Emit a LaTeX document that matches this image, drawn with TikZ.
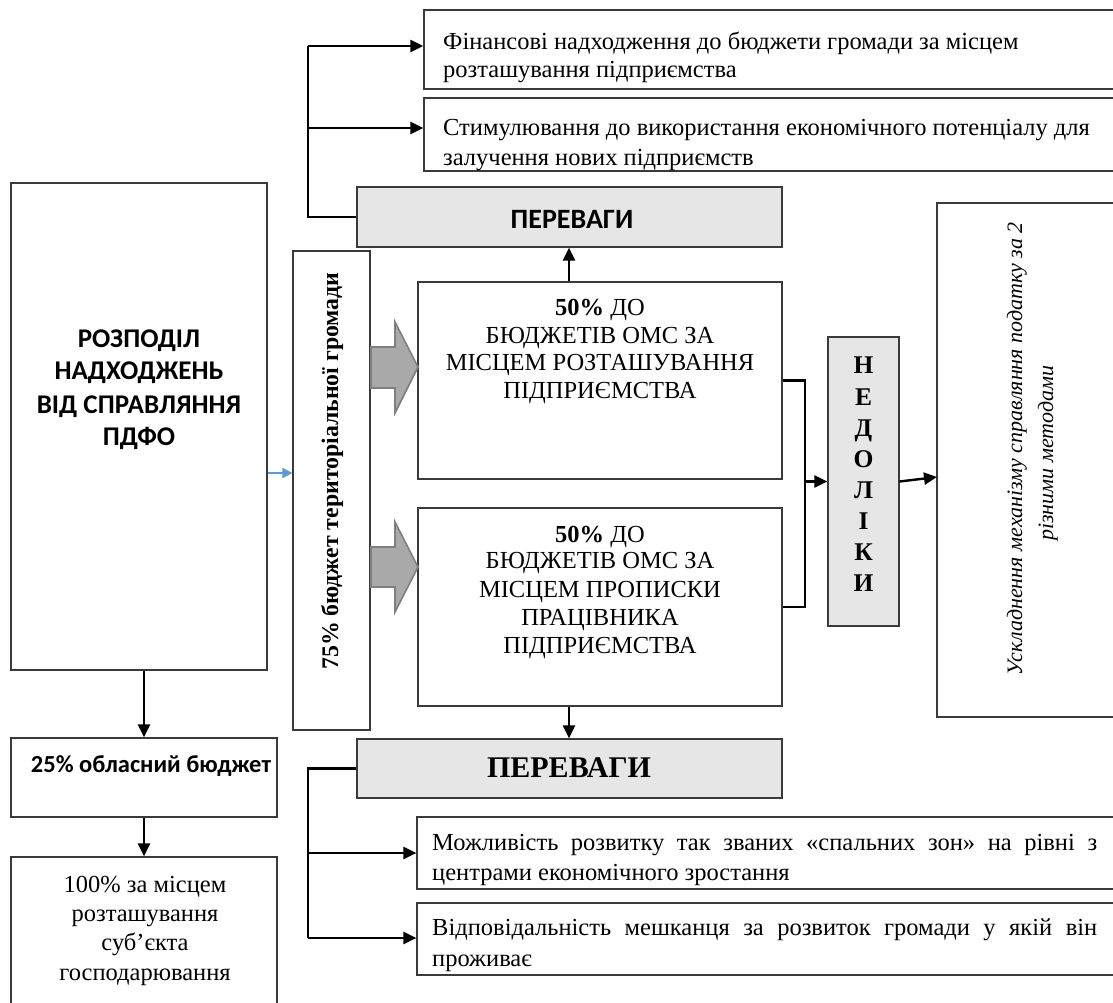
\documentclass[tikz,border=0pt]{standalone}
\usepackage{fontspec}
\setmainfont{Liberation Serif}
\newfontfamily\calfont{Carlito}
\usetikzlibrary{arrows.meta}
\definecolor{boxline}{HTML}{3A3A3A}
\definecolor{lightfill}{HTML}{E6E6E6}
\definecolor{blockfill}{HTML}{A9A9A9}
\definecolor{blockline}{HTML}{7F7F7F}
\definecolor{bluearr}{HTML}{5B9BD5}
\begin{document}
\begin{tikzpicture}[x=1pt,y=-1pt,
  box/.style={draw=boxline, line width=1.2pt, rectangle, inner sep=0pt, fill=white},
  graybox/.style={box, fill=lightfill},
  arr/.style={line width=2.4pt, -{Triangle[length=13pt,width=12pt]}},
  conn/.style={line width=2.4pt},
  txt/.style={inner sep=0pt, anchor=base, font=\fontsize{24.5}{28}\selectfont},
  ltxt/.style={inner sep=0pt, anchor=base west, font=\fontsize{24.5}{28}\selectfont},
  caltxt/.style={inner sep=0pt, anchor=base, font=\calfont\bfseries\fontsize{27}{31}\selectfont},
  nedtxt/.style={inner sep=0pt, anchor=base, font=\bfseries\fontsize{25.5}{29}\selectfont},
  block/.style={fill=blockfill, draw=blockline, line width=1.6pt, line join=miter}
]
\useasboundingbox (0,0) rectangle (1113,1003);

% boxes
\node[box, minimum width=701pt, minimum height=79pt] (b1) at (774.5,49.5) {};
\node[box, minimum width=701pt, minimum height=73pt] (b2) at (774.5,134.5) {};
\node[graybox, minimum width=425pt, minimum height=60pt] (pt) at (569.5,217) {};
\node[box, minimum width=256pt, minimum height=487pt] (main) at (139,426.5) {};
\node[box, minimum width=77pt, minimum height=479pt] (b75) at (331.5,490.5) {};
\node[box, minimum width=364pt, minimum height=197pt] (u50) at (600,380.5) {};
\node[box, minimum width=364pt, minimum height=198pt] (l50) at (600,607) {};
\node[graybox, minimum width=71pt, minimum height=289pt] (ned) at (863.5,481.5) {};
\node[box, minimum width=188pt, minimum height=514pt] (rb) at (1031,460) {};
\node[graybox, minimum width=425pt, minimum height=59pt] (pb) at (569.5,768.5) {};
\node[box, minimum width=708pt, minimum height=72pt] (c1) at (771,853) {};
\node[box, minimum width=708pt, minimum height=72pt] (c2) at (771,939) {};
\node[box, minimum width=266pt, minimum height=79pt] (p25) at (144,777.5) {};
\node[box, minimum width=266pt, minimum height=160pt] (p100) at (144,937) {};

% texts top boxes
\node[ltxt] (b1t1) at (443,50) {Фінансові надходження до бюджети громади за місцем};
\node[ltxt] (b1t2) at (443,78) {розташування підприємства};
\begin{scope}
\clip (b2.north west) rectangle (b2.south east);
\node[ltxt] (b2t1) at (443,136) {Стимулювання до використання економічного потенціалу для};
\node[ltxt] (b2t2) at (443,166) {залучення нових підприємств};
\end{scope}

\node[inner sep=0pt, anchor=base, font=\calfont\bfseries\fontsize{28}{32}\selectfont] (ptt) at (572,228) {ПЕРЕВАГИ};

% main
\node[caltxt] (m1) at (139,347) {РОЗПОДІЛ};
\node[caltxt] (m2) at (139,379) {НАДХОДЖЕНЬ};
\node[caltxt] (m3) at (139,413) {ВІД СПРАВЛЯННЯ};
\node[caltxt] (m4) at (139,445) {ПДФО};

% 75%
\node[inner sep=0pt, anchor=base, rotate=90, font=\bfseries\fontsize{23.8}{27}\selectfont] (t75) at (338,471) {75\% бюджет територіальної громади};

% 50% boxes
\node[txt] (u1) at (600,315) {\textbf{50\%} ДО};
\node[txt] (u2) at (600,343) {БЮДЖЕТІВ ОМС ЗА};
\node[txt] (u3) at (600,370) {МІСЦЕМ РОЗТАШУВАННЯ};
\node[txt] (u4) at (600,398) {ПІДПРИЄМСТВА};
\node[txt] (l1) at (600,542) {\textbf{50\%} ДО};
\node[txt] (l2) at (600,568) {БЮДЖЕТІВ ОМС ЗА};
\node[txt] (l3) at (600,597) {МІСЦЕМ ПРОПИСКИ};
\node[txt] (l4) at (600,625) {ПРАЦІВНИКА};
\node[txt] (l5) at (600,653) {ПІДПРИЄМСТВА};

% НЕДОЛІКИ
\foreach \ch/\yy [count=\i] in {Н/373,Е/405,Д/436,О/467,Л/498,І/529,К/560,И/591}
  \node[nedtxt] (ned\i) at (863.5,\yy) {\ch};

% right box
\node[inner sep=0pt, anchor=base, rotate=90, font=\itshape\fontsize{22}{26}\selectfont] (r1) at (1022,449) {Ускладнення механізму справляння податку за 2};
\node[inner sep=0pt, anchor=base, rotate=90, font=\itshape\fontsize{22}{26}\selectfont] (r2) at (1053,453) {різними методами};

% lower ПЕРЕВАГИ
\node[inner sep=0pt, anchor=base, font=\bfseries\fontsize{30}{34}\selectfont] (pbt) at (569,777) {ПЕРЕВАГИ};

% lower boxes
\begin{scope}
\clip (c1.north west) rectangle (c1.south east);
\node[ltxt] (c1t1) at (432,850) {\hbox to 665pt{Можливість\hfill розвитку\hfill так\hfill званих\hfill «спальних\hfill зон»\hfill на\hfill рівні\hfill з}};
\node[ltxt] (c1t2) at (432,880) {центрами економічного зростання};
\end{scope}
\begin{scope}
\clip (c2.north west) rectangle (c2.south east);
\node[ltxt] (c2t1) at (432,935) {\hbox to 665pt{Відповідальність\hfill мешканця\hfill за\hfill розвиток\hfill громади\hfill у\hfill якій\hfill він}};
\node[ltxt] (c2t2) at (432,966) {проживає};
\end{scope}

% left lower boxes
\node[inner sep=0pt, anchor=base, font=\calfont\bfseries\fontsize{24.5}{28}\selectfont] (p25t) at (151,772) {25\% обласний бюджет};
\node[txt] (p1) at (145,892) {100\% за місцем};
\node[txt] (p2) at (145,921) {розташування};
\node[txt] (p3) at (145,950) {суб’єкта};
\node[txt] (p4) at (145,980) {господарювання};

% block arrows
\draw[block] (371,347) -- (395,347) -- (395,322) -- (418,367) -- (395,413) -- (395,388) -- (371,388) -- cycle;
\draw[block] (371,547) -- (395,547) -- (395,522) -- (418,567) -- (395,612) -- (395,587) -- (371,587) -- cycle;

% connectors
\coordinate (tl) at (308,46);
\coordinate (tm) at (308,128);
\draw[conn] (pt.west) -| (tl);
\draw[arr] (tl) -- (tl -| b1.west);
\draw[arr] (tm) -- (tm -| b2.west);

\coordinate (ux) at (569,0);
\draw[arr] (u50.north -| ux) -- (pt.south -| ux);
\draw[arr] (l50.south -| ux) -- (pb.north -| ux);

\coordinate (jt) at (805,380.5);
\coordinate (jb) at (805,607);
\coordinate (jn) at (805,481.5);
\draw[conn] (u50.east) -- (jt) -- (jb) -- (l50.east);
\draw[arr] (jn) -- (ned.west);

\coordinate (re) at (937,477);
\draw[arr] (ned.east) -- (re);

\coordinate (bl) at (308,768.5);
\coordinate (bm) at (308,853);
\coordinate (bb) at (308,938);
\draw[conn] (pb.west) -- (bl) -- (bb);
\draw[arr] (bm) -- (bm -| c1.west);
\draw[arr] (bb) -- (bb -| c2.west);

\coordinate (ba) at (0,473);
\draw[line width=1.8pt, draw=bluearr, -{Triangle[length=10pt,width=10pt]}] (main.east |- ba) -- (b75.west |- ba);

\coordinate (mx) at (144,0);
\draw[arr] (main.south -| mx) -- (p25.north -| mx);
\draw[arr] (p25.south -| mx) -- (p100.north -| mx);
\end{tikzpicture}
\end{document}
